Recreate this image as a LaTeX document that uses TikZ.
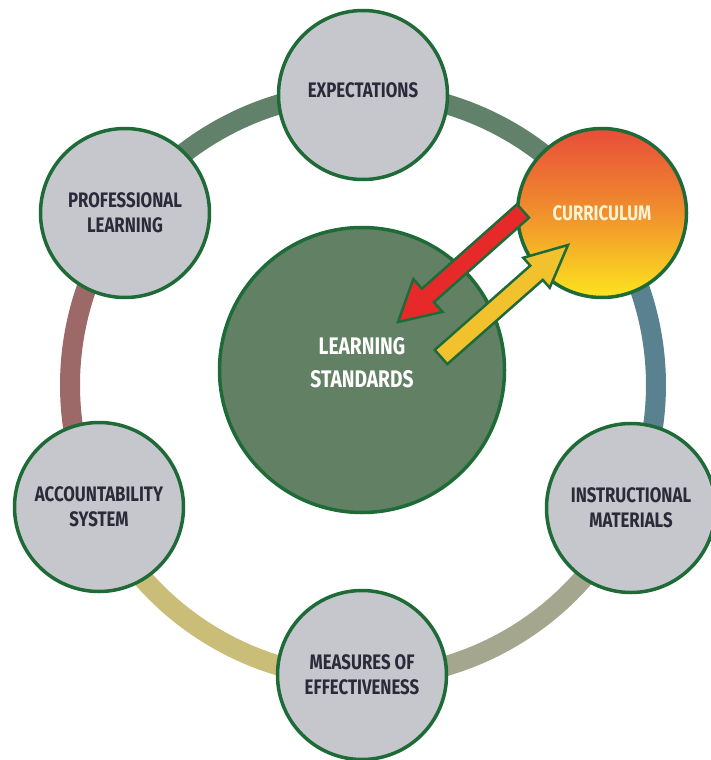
\documentclass[tikz,border=0pt]{standalone}
\usepackage{fontspec}
\setmainfont{Fira Sans}[FakeStretch=0.8]
\usepackage{xcolor}
\usepackage{tikz}
\usetikzlibrary{calc}

\definecolor{rimgreen}{HTML}{1E6B38}
\definecolor{bubble}{HTML}{C6C7CC}
\definecolor{inkdark}{HTML}{2C2A3A}
\definecolor{hubgreen}{HTML}{628063}
\definecolor{segGreen}{HTML}{62816A}
\definecolor{segBlue}{HTML}{5A8190}
\definecolor{segGrey}{HTML}{A5A68E}
\definecolor{segKhaki}{HTML}{C9BD78}
\definecolor{segRose}{HTML}{9D6868}
\definecolor{arrRed}{HTML}{E8292A}
\definecolor{arrGold}{HTML}{F2C12E}
\definecolor{currTop}{HTML}{E84C3A}
\definecolor{currMid}{HTML}{F0902C}
\definecolor{currBot}{HTML}{FDE51F}
\definecolor{cream}{HTML}{FFF3D6}

% fat arrow: tail, tip, head length, half head width, half shaft width, fill
\newcommand{\fatarrow}[6]{%
  \coordinate (hb) at ($(#2)!#3!(#1)$);
  \filldraw[fill=#6, draw=rimgreen, line width=2.5pt, line join=miter]
    ($(#1)!#5!90:(#2)$) -- ($(hb)!#5!-90:(#1)$) -- ($(hb)!#4!-90:(#1)$) -- (#2)
    -- ($(hb)!#4!90:(#1)$) -- ($(hb)!#5!90:(#1)$) -- ($(#1)!#5!-90:(#2)$) -- cycle;}

\begin{document}
\begin{tikzpicture}[x=1pt, y=-1pt,
  every node/.style={circle, draw=rimgreen, line width=3.5pt, minimum size=169pt,
    fill=bubble, text=inkdark, align=center, font=\bfseries\fontsize{21}{25}\selectfont},
  ring/.style={line width=20pt}]
\useasboundingbox (0,0) rectangle (711,760);
\coordinate (O) at (363,385);

% ring segments
\draw[ring, segGreen] (O) ++(-144:293) arc (-144:-90:293);
\draw[ring, segGreen] (O) ++(-90:293) arc (-90:-35.6:293);
\draw[ring, segBlue]  (O) ++(-35.6:293) arc (-35.6:24.6:293);
\draw[ring, segGrey]  (O) ++(24.6:293) arc (24.6:90:293);
\draw[ring, segKhaki] (O) ++(90:293) arc (90:155:293);
\draw[ring, segRose]  (O) ++(155:293) arc (155:216:293);

\node (std) at (362,370) [minimum size=285pt, fill=hubgreen, text=white, text depth=16pt,
  font=\bfseries\fontsize{24}{33}\selectfont] {LEARNING\\STANDARDS};
\node (exp) at (363,95) [text depth=10pt] {EXPECTATIONS};
\node (curr) at (602,213) [top color=currTop, bottom color=currBot,
  middle color=currMid, text=cream] {CURRICULUM};
\node (instr) at (631,508) {INSTRUCTIONAL\\MATERIALS};
\node (meas) at (362,675) {MEASURES OF\\EFFECTIVENESS};
\node (acct) at (99,507) {ACCOUNTABILITY\\SYSTEM};
\node (prof) at (125,213) {PROFESSIONAL\\LEARNING};

% arrows between curriculum and standards
\coordinate (rtail) at (523,211);
\coordinate (rtip) at (398,322);
\coordinate (ytail) at (441,357);
\coordinate (ytip) at (568,245);
\fatarrow{rtail}{rtip}{40pt}{22pt}{9pt}{arrRed}
\fatarrow{ytail}{ytip}{42pt}{20pt}{9.5pt}{arrGold}
\end{tikzpicture}
\end{document}
